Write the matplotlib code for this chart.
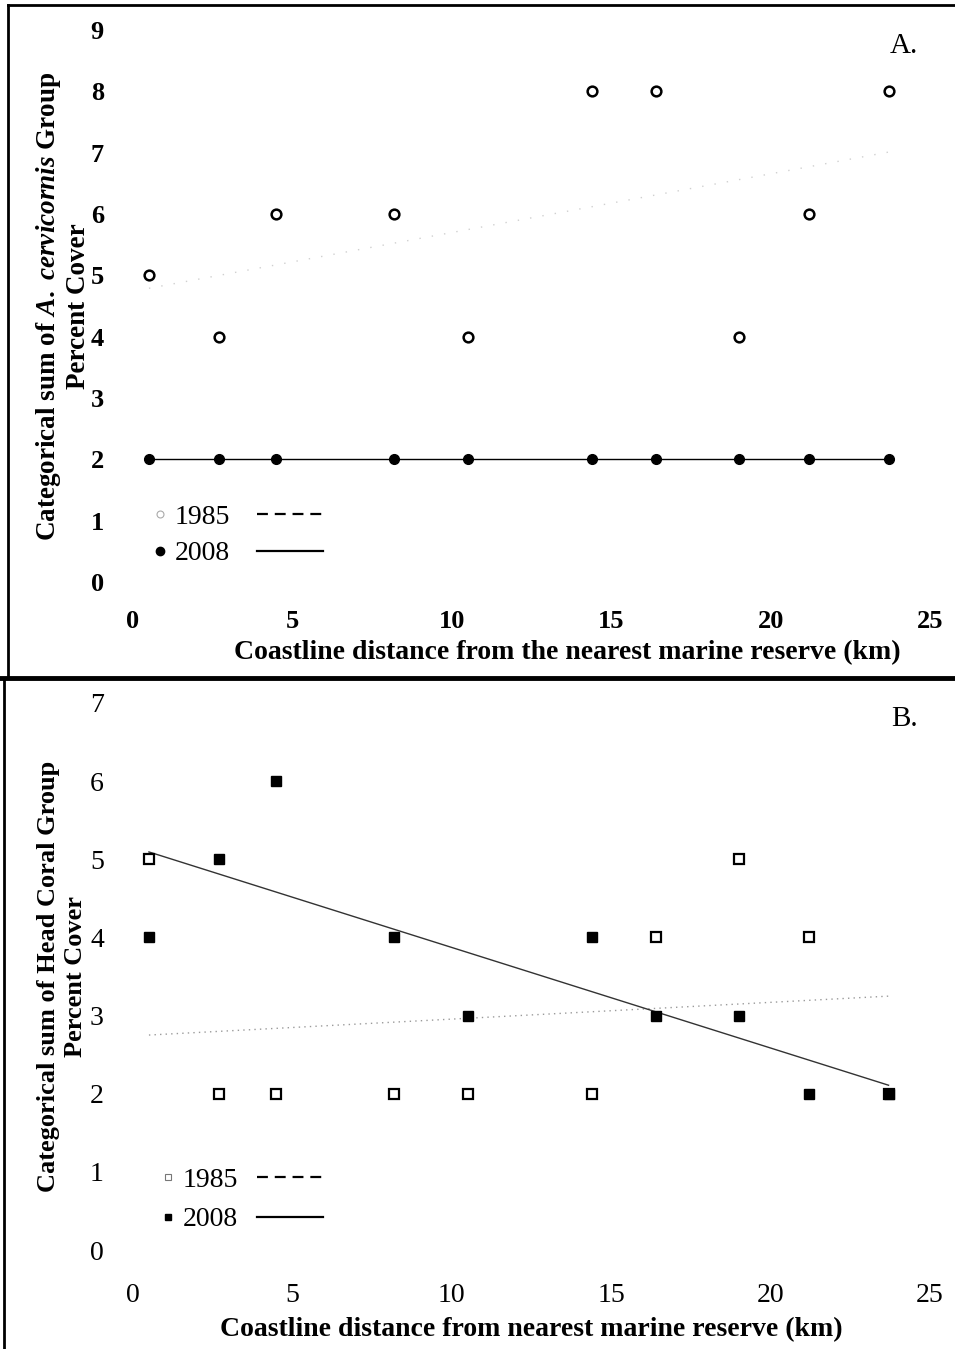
import numpy as np
import matplotlib
matplotlib.use("Agg")
import matplotlib.pyplot as plt
from matplotlib.lines import Line2D

# survey sites: coastline distance from nearest marine reserve (km)
dist_km = [0.5, 2.7, 4.5, 8.2, 10.5, 14.4, 16.4, 19.0, 21.2, 23.7]
# categorical sum of percent cover
acerv_1985 = [5, 4, 6, 6, 4, 8, 8, 4, 6, 8]
acerv_2008 = [2, 2, 2, 2, 2, 2, 2, 2, 2, 2]
head_1985 = [5, 2, 2, 2, 2, 2, 4, 5, 4, 2]
head_2008 = [4, 5, 6, 4, 3, 4, 3, 3, 2, 2]
years = ["1985", "2008"]
x_ticks = [0, 5, 10, 15, 20, 25]

plt.rcParams["font.family"] = ["Liberation Serif", "DejaVu Serif"]
plt.rcParams["mathtext.fontset"] = "custom"
plt.rcParams["mathtext.it"] = "Liberation Serif:italic:bold"
plt.rcParams["mathtext.rm"] = "Liberation Serif:bold"

W, H = 955, 1349
fig = plt.figure(figsize=(W / 100, H / 100), dpi=100)

def px_axes(x0, x1, y_top, y_bot):
    return fig.add_axes([x0 / W, 1 - y_bot / H, (x1 - x0) / W, (y_bot - y_top) / H])

def trend(ax, x, y, **kw):
    x = np.asarray(x, float); y = np.asarray(y, float)
    b, a = np.polyfit(x, y, 1)
    xs = np.array([x.min(), x.max()])
    ax.plot(xs, a + b * xs, **kw)

def style(ax, ymax, bold_ticks, tick_fs):
    ax.set_xlim(0, 25); ax.set_ylim(0, ymax)
    ax.set_xticks(x_ticks); ax.set_yticks(range(ymax + 1))
    for s in ax.spines.values():
        s.set_visible(False)
    ax.tick_params(length=0, labelsize=tick_fs)
    ax.tick_params(axis="y", pad=21)
    for lab in ax.get_xticklabels() + ax.get_yticklabels():
        lab.set_fontweight("bold" if bold_ticks else "normal")

def legend_pair(ax, markers, x_mk, y0, spacing, x_line):
    lg = ax.legend(markers, years, loc="lower left", bbox_to_anchor=(x_mk, y0),
                   frameon=False, fontsize=20, handlelength=0.6, handletextpad=0.2,
                   labelspacing=spacing, borderaxespad=0)
    ax.add_artist(lg)
    ln = [Line2D([], [], color="black", lw=1.6, ls=(0, (4.9, 3.1))), Line2D([], [], color="black", lw=1.6)]
    ax.legend(ln, ["", ""], loc="lower left", bbox_to_anchor=(x_line, y0), frameon=False,
              fontsize=20, handlelength=2.35, handletextpad=0, labelspacing=spacing, borderaxespad=0)

# ---- panel A
axA = px_axes(133, 930, 30, 582)
trend(axA, dist_km, acerv_1985, color="#d0d0d0", lw=1.0, ls=(0, (1, 8)), zorder=1)
trend(axA, dist_km, acerv_2008, color="black", lw=1.0, zorder=2)
axA.plot(dist_km, acerv_1985, "o", ms=7, mfc="white", mec="black", mew=1.8, ls="none", zorder=3)
axA.plot(dist_km, acerv_2008, "o", ms=7, mfc="black", mec="black", ls="none", zorder=3)
style(axA, 9, True, 19)
axA.tick_params(axis="x", pad=20)
axA.set_xlabel("Coastline distance from the nearest marine reserve (km)", fontsize=20, fontweight="bold")
axA.xaxis.set_label_coords(0.545, -0.105)
axA.set_ylabel("Categorical sum of $\\mathit{A.\\ cervicornis}$ Group\nPercent Cover",
               fontsize=19.5, fontweight="bold", linespacing=1.15)
axA.yaxis.set_label_coords(-0.053, 0.5)
axA.text(0.985, 0.995, "A.", transform=axA.transAxes, ha="right", va="top", fontsize=21)
legend_pair(axA,
            [Line2D([], [], marker="o", ls="none", ms=5, mfc="white", mec="#aaaaaa", mew=0.8),
             Line2D([], [], marker="o", ls="none", ms=6, mfc="black", mec="black")],
            0.01, 0.008, 0.4, 0.142)

# ---- panel B
axB = px_axes(133, 930, 703, 1250)
trend(axB, dist_km, head_1985, color="#9a9a9a", lw=1.0, ls=(0, (1, 3)), zorder=1)
trend(axB, dist_km, head_2008, color="#333333", lw=1.0, zorder=2)
axB.plot(dist_km, head_1985, "s", ms=7, mfc="white", mec="black", mew=1.6, ls="none", zorder=3)
axB.plot(dist_km, head_2008, "s", ms=7, mfc="black", mec="black", ls="none", zorder=3)
style(axB, 7, False, 20)
axB.tick_params(axis="x", pad=24)
axB.set_xlabel("Coastline distance from nearest marine reserve (km)", fontsize=20, fontweight="bold", labelpad=6)
axB.set_ylabel("Categorical sum of Head Coral Group\nPercent Cover",
               fontsize=19, fontweight="bold", linespacing=1.2)
axB.yaxis.set_label_coords(-0.058, 0.5)
axB.text(0.985, 0.995, "B.", transform=axB.transAxes, ha="right", va="top", fontsize=21)
legend_pair(axB,
            [Line2D([], [], marker="s", ls="none", ms=5, mfc="white", mec="#777777", mew=0.8),
             Line2D([], [], marker="s", ls="none", ms=5, mfc="black", mec="black")],
            0.02, 0.012, 0.5, 0.142)

# ---- frame lines
fig.add_artist(Line2D([8 / W, 1], [1 - 5 / H, 1 - 5 / H], color="black", lw=2))
fig.add_artist(Line2D([8 / W, 8 / W], [1 - 5 / H, 1 - 678 / H], color="black", lw=2))
fig.add_artist(Line2D([0, 1], [1 - 678 / H, 1 - 678 / H], color="black", lw=3.5))
fig.add_artist(Line2D([4 / W, 4 / W], [1 - 678 / H, 0], color="black", lw=2))

fig.savefig("out.png", dpi=100, facecolor="white")
